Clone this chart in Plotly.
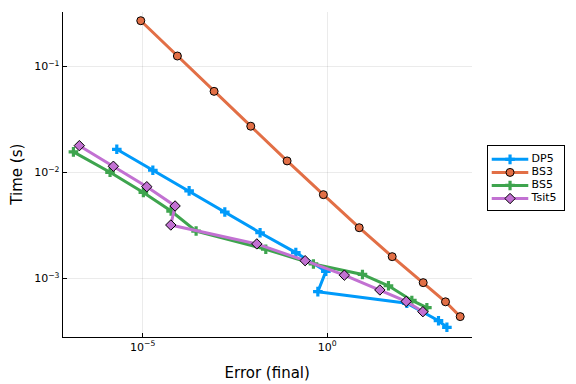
import plotly.graph_objects as go

dp5_err = [1.98e-6, 1.88e-5, 1.81e-4, 1.68e-3, 0.0152, 0.1416, 0.923, 0.56, 145, 1045, 1766]
dp5_time = [0.01648, 0.01045, 0.00667, 0.00422, 0.00269, 0.001746, 0.001164, 0.000748, 0.000581, 0.000398, 0.000345]

bs3_err = [8.85e-6, 8.7e-5, 8.6e-4, 8.5e-3, 0.082, 0.79, 7.4, 58, 402, 1620, 4050]
bs3_time = [0.269, 0.125, 0.058, 0.0272, 0.0128, 0.00615, 0.0030, 0.0016, 0.00091, 0.00060, 0.000435]

bs5_err = [1.32e-7, 1.30e-6, 1.04e-5, 5.87e-5, 2.80e-4, 0.0217, 0.425, 9.07, 46, 198, 506]
bs5_time = [0.01556, 0.0100, 0.00645, 0.00431, 0.00279, 0.00188, 0.001365, 0.001087, 0.000850, 0.000618, 0.000528]

tsit5_err = [1.91e-7, 1.60e-6, 1.29e-5, 7.54e-5, 5.77e-5, 0.0124, 0.253, 2.93, 26.9, 139, 394]
tsit5_time = [0.01783, 0.01140, 0.00731, 0.00481, 0.00318, 0.00211, 0.001466, 0.00107, 0.000776, 0.000605, 0.000484]

series_names = ["DP5", "BS3", "BS5", "Tsit5"]

x_tickvals = [1e-5, 1]
x_ticktext = ["10<sup>−5</sup>", "10<sup>0</sup>"]
y_tickvals = [1e-3, 1e-2, 1e-1]
y_ticktext = ["10<sup>−3</sup>", "10<sup>−2</sup>", "10<sup>−1</sup>"]

styles = [
    dict(color="#009AFA", symbol="cross", size=8, outline=0),
    dict(color="#E26F46", symbol="circle", size=8, outline=1),
    dict(color="#3EA44E", symbol="cross", size=8, outline=0),
    dict(color="#C271D2", symbol="diamond", size=8, outline=1),
]
data = [(dp5_err, dp5_time), (bs3_err, bs3_time), (bs5_err, bs5_time), (tsit5_err, tsit5_time)]

fig = go.Figure()
for name, (xs, ys), st in zip(series_names, data, styles):
    fig.add_trace(go.Scatter(
        x=xs, y=ys, name=name, mode="lines+markers", showlegend=False,
        line=dict(color=st["color"], width=3),
        marker=dict(symbol=st["symbol"], size=st["size"], color=st["color"],
                    line=dict(color="black", width=st["outline"]))))

# custom compact legend drawn on an auxiliary axis pair
for i, (name, st) in enumerate(zip(series_names, styles)):
    row = i + 1
    fig.add_trace(go.Scatter(
        x=[0.045, 0.526], y=[row, row], mode="lines", xaxis="x2", yaxis="y2",
        showlegend=False, hoverinfo="skip",
        line=dict(color=st["color"], width=3)))
    fig.add_trace(go.Scatter(
        x=[0.286], y=[row], mode="markers", xaxis="x2", yaxis="y2",
        showlegend=False, hoverinfo="skip",
        marker=dict(symbol=st["symbol"], size=st["size"], color=st["color"],
                    line=dict(color="black", width=st["outline"]))))
    fig.add_trace(go.Scatter(
        x=[0.57], y=[row], mode="text", text=[name], textposition="middle right",
        xaxis="x2", yaxis="y2", showlegend=False, hoverinfo="skip",
        textfont=dict(size=11, color="black", family="DejaVu Sans")))

axis_common = dict(showline=True, linecolor="black", linewidth=1, ticks="inside",
                   ticklen=4, tickcolor="black", showgrid=True,
                   gridcolor="rgba(0,0,0,0.08)", gridwidth=1, zeroline=False,
                   mirror=False, automargin=False,
                   tickfont=dict(size=11, color="black"))

fig.update_layout(
    xaxis=dict(type="log", range=[-7.17, 3.92], tickvals=x_tickvals, ticktext=x_ticktext,
               domain=[0.0963, 0.8164], anchor="y",
               title=dict(text="Error (final)", font=dict(size=15, color="black"), standoff=14),
               **axis_common),
    yaxis=dict(type="log", range=[-3.551, -0.485], tickvals=y_tickvals, ticktext=y_ticktext,
               domain=[0.1258, 0.9902], anchor="x",
               title=dict(text="Time (s)", font=dict(size=15, color="black"), standoff=10),
               **axis_common),
    xaxis2=dict(domain=[0.8456, 0.9794], range=[0, 1], anchor="y2",
                showline=True, mirror=True, linecolor="black", linewidth=1,
                showgrid=False, zeroline=False, showticklabels=False, ticks="",
                fixedrange=True, automargin=False),
    yaxis2=dict(domain=[0.4628, 0.633], range=[4.877, -0.023], anchor="x2",
                showline=True, mirror=True, linecolor="black", linewidth=1,
                showgrid=False, zeroline=False, showticklabels=False, ticks="",
                fixedrange=True, automargin=False),
    width=568, height=376,
    margin=dict(l=0, r=0, t=0, b=0, autoexpand=False),
    plot_bgcolor="white", paper_bgcolor="white",
    font=dict(family="DejaVu Sans", size=11, color="black"),
    showlegend=False,
)

fig.write_html("out.html")
